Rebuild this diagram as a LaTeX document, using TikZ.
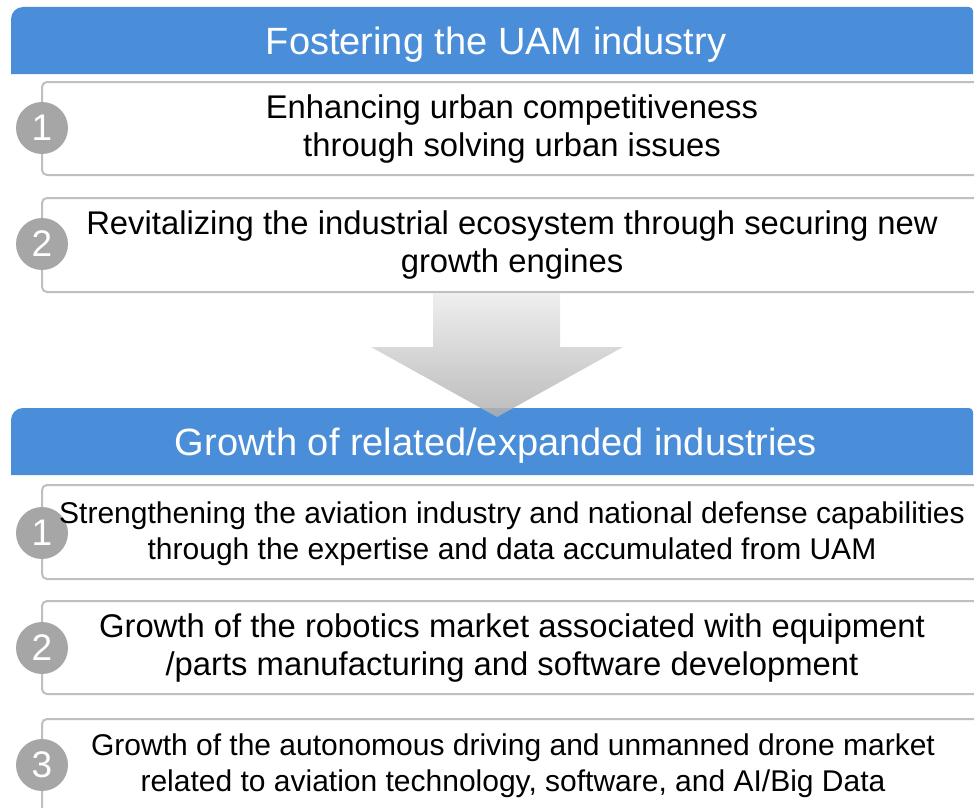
\documentclass[tikz,border=0pt]{standalone}
\usepackage{fontspec}
\setmainfont{Liberation Sans}
\definecolor{hdrblue}{RGB}{74,142,217}
\definecolor{boxgray}{RGB}{191,191,191}
\definecolor{numgray}{RGB}{166,166,166}
\definecolor{arrtop}{RGB}{236,236,236}
\definecolor{arrbot}{RGB}{176,176,176}
\begin{document}
\begin{tikzpicture}[x=1pt,y=-1pt,
  itembox/.style={draw=boxgray, line width=2pt, rounded corners=5pt, fill=white},
  num/.style={circle, fill=numgray, minimum size=52pt, inner sep=0pt, text=white, font=\fontsize{37}{37}\selectfont},
  body/.style={align=center, font=\fontsize{32.8}{38}\selectfont, text=black, inner sep=0pt},
  bodysmall/.style={align=center, font=\fontsize{30}{36}\selectfont, text=black, inner sep=0pt},
  htext/.style={text=white, font=\fontsize{38}{38}\selectfont, inner sep=0pt, anchor=base}]
\useasboundingbox (0,0) rectangle (974,808);
\clip (0,0) rectangle (974,808);
% headers
\fill[hdrblue] (11,74) [rounded corners=12pt] -- (11,7) [rounded corners=4pt] -- (973,7) [sharp corners] -- (973,74) -- cycle;
\fill[hdrblue] (11,475) [rounded corners=12pt] -- (11,408) [rounded corners=4pt] -- (973,408) [sharp corners] -- (973,475) -- cycle;
\node[htext] (h1) at (496,55) {Fostering the UAM industry};
\node[htext] (h2) at (496,455) {Growth of related/expanded industries};
% boxes
\draw[itembox] (42,82) rectangle (995,175);
\draw[itembox] (42,198) rectangle (995,292);
\draw[itembox] (42,485) rectangle (995,579);
\draw[itembox] (42,601) rectangle (995,694);
\draw[itembox] (42,719) rectangle (995,830);
% arrow
\shade[top color=arrtop, bottom color=arrbot, fill opacity=0.85]
  (433,293) -- (560,293) -- (560,347) -- (623,347) -- (497,417) -- (371,347) -- (433,347) -- cycle;
% numbers
\node[num] (n1) at (42,128) {1};
\node[num] (n2) at (42,244) {2};
\node[num] (m1) at (42,533) {1};
\node[num] (m2) at (42,648) {2};
\node[num] (m3) at (42,765) {3};
% texts
\node[body] (t1) at (512,129) {Enhancing urban competitiveness\\through solving urban issues};
\node[body] (t2) at (512,245) {Revitalizing the industrial ecosystem through securing new\\growth engines};
\node[bodysmall] (u1) at (512,534) {Strengthening the aviation industry and national defense capabilities\\through the expertise and data accumulated from UAM};
\node[body] (u2) at (512,648) {Growth of the robotics market associated with equipment\\/parts manufacturing and software development};
\node[bodysmall] (u3) at (513,766) {Growth of the autonomous driving and unmanned drone market\\related to aviation technology, software, and AI/Big Data};
\end{tikzpicture}
\end{document}
